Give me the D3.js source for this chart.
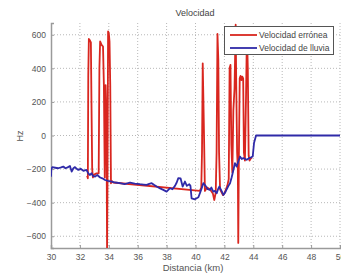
<!DOCTYPE html>
<html>
<head>
<meta charset="utf-8">
<script src="https://cdn.jsdelivr.net/npm/d3@7"></script>
<style>
  body { margin: 0; background: #fff; }
  svg { display: block; font-family: "Liberation Sans", Arial, sans-serif; }
</style>
</head>
<body>
<div id="chart"></div>
<script>
// distancia (km) / velocidad (Hz)
const lluviaX = [30.0, 30.02, 30.09, 30.3, 30.5, 30.7, 30.85, 31.0, 31.15, 31.31, 31.43, 31.55, 31.66, 31.8, 31.89, 32.05, 32.24, 32.45, 32.6, 32.7, 32.8, 32.9, 33.05, 33.2, 33.4, 33.55, 33.74, 33.95, 34.2, 34.45, 34.77, 35.1, 35.47, 35.8, 36.16, 36.4, 36.62, 36.8, 36.97, 37.15, 37.31, 37.55, 37.77, 38.0, 38.24, 38.4, 38.58, 38.7, 38.81, 38.97, 39.11, 39.27, 39.4, 39.57, 39.65, 39.73, 39.96, 40.08, 40.2, 40.32, 40.43, 40.54, 40.7, 40.85, 41.0, 41.1, 41.23, 41.35, 41.47, 41.56, 41.65, 41.8, 41.93, 42.05, 42.16, 42.28, 42.39, 42.5, 42.57, 42.73, 42.85, 42.96, 43.08, 43.2, 43.31, 43.45, 43.54, 43.7, 43.85, 43.96, 44.05, 44.19, 46, 48, 50]
const lluviaY = [-245, -200, -189, -192, -195, -190, -185, -195, -190, -182, -215, -195, -188, -200, -205, -198, -210, -205, -228, -235, -225, -240, -245, -235, -250, -255, -265, -270, -275, -280, -284, -290, -280, -286, -290, -292, -294, -288, -284, -295, -304, -315, -324, -334, -314, -320, -300, -280, -254, -256, -304, -274, -300, -290, -300, -374, -380, -374, -368, -340, -314, -284, -300, -320, -324, -310, -334, -330, -344, -320, -304, -330, -354, -340, -320, -300, -284, -250, -225, -165, -185, -155, -125, -140, -135, -140, -145, -135, -130, -125, -45, 0, 0, 0, 0]

const erroneaX = [32.5, 32.55, 32.58, 32.62, 32.7, 32.76, 32.8, 32.85, 32.9, 32.95, 33.05, 33.15, 33.3, 33.35, 33.4, 33.5, 33.6, 33.66, 33.72, 33.78, 33.84, 33.88, 33.91, 33.95, 34.0, 34.05, 34.1, 34.15, 34.2, 34.3,
  40.3, 40.4, 40.45, 40.5, 40.55, 40.6, 40.65, 40.8, 41.0, 41.2, 41.3, 41.4, 41.46, 41.52, 41.58, 41.63, 41.7, 41.9, 42.0, 42.2, 42.3, 42.36, 42.42, 42.48, 42.55, 42.62, 42.7, 42.78, 42.82, 42.88, 42.93, 42.96, 43.0, 43.06, 43.12, 43.18, 43.24, 43.3, 43.35, 43.42, 43.5, 43.56, 43.62, 43.68, 43.74, 43.8, 43.9]
const erroneaY = [-240, -255, 360, 575, 565, 555, 200, -200, -250, -235, -230, -225, -225, 400, 560, 540, 530, 300, -250, 300, 100, -680, -300, 620, 610, 560, 300, -285, -270, -280,
  -330, -310, -100, 430, 200, -50, -330, -310, -320, -345, -384, -340, -100, 605, 450, -100, -320, -355, -345, -300, -260, 400, 420, -50, -220, 150, 280, 660, 300, -100, -200, -640, -150, 340, 355, 330, 350, 340, -100, -150, 250, 620, 400, -120, -150, -140, -130]

const xTicks = [30, 32, 34, 36, 38, 40, 42, 44, 46, 48, 50]
const yTicks = [-600, -400, -200, 0, 200, 400, 600]
const series = ["Velocidad errónea", "Velocidad de lluvia"]
const colors = ["#d9261f", "#2f2aa8"]

const width = 341, height = 275
const mLeft = 51, mRight = 340, mTop = 23, mBottom = 248

const svg = d3.select("#chart").append("svg")
  .attr("width", width)
  .attr("height", height)

svg.append("rect").attr("width", width).attr("height", height).attr("fill", "#fff")

const x = d3.scaleLinear().domain([30, 50]).range([mLeft, mRight])
const y = d3.scaleLinear().domain([-670, 670]).range([mBottom, mTop])

svg.append("clipPath").attr("id", "plot")
  .append("rect")
  .attr("x", mLeft).attr("y", mTop)
  .attr("width", mRight - mLeft).attr("height", mBottom - mTop)

// grid
svg.append("g")
  .selectAll("line")
  .data(xTicks.slice(1))
  .join("line")
  .attr("x1", d => x(d)).attr("x2", d => x(d))
  .attr("y1", mTop).attr("y2", mBottom)
  .attr("stroke", "#b8b8b8")
  .attr("stroke-dasharray", "1,2")

svg.append("g")
  .selectAll("line")
  .data(yTicks)
  .join("line")
  .attr("x1", mLeft).attr("x2", mRight)
  .attr("y1", d => y(d)).attr("y2", d => y(d))
  .attr("stroke", "#b8b8b8")
  .attr("stroke-dasharray", "1,2")

// axes
const xAxis = svg.append("g")
  .attr("transform", `translate(0,${mBottom})`)
  .call(d3.axisBottom(x).tickValues(xTicks).tickSize(-3).tickPadding(6))
const yAxis = svg.append("g")
  .attr("transform", `translate(${mLeft},0)`)
  .call(d3.axisLeft(y).tickValues(yTicks).tickSize(-3).tickPadding(5))

;[xAxis, yAxis].forEach(a => {
  a.select(".domain").attr("stroke", "#9a9a9a").attr("stroke-width", 1.5)
  a.selectAll(".tick line").attr("stroke", "#9a9a9a")
  a.selectAll("text")
    .attr("fill", "#555")
    .style("font-size", "8.5px")
    .style("font-family", "Liberation Sans, Arial, sans-serif")
})

const line = d3.line().x(d => x(d[0])).y(d => y(d[1]))

const plot = svg.append("g").attr("clip-path", "url(#plot)")

plot.append("path")
  .datum(d3.zip(erroneaX, erroneaY))
  .attr("d", line)
  .attr("fill", "none")
  .attr("stroke", colors[0])
  .attr("stroke-width", 1.8)
  .attr("stroke-linejoin", "round")

plot.append("path")
  .datum(d3.zip(lluviaX, lluviaY))
  .attr("d", line)
  .attr("fill", "none")
  .attr("stroke", colors[1])
  .attr("stroke-width", 1.8)
  .attr("stroke-linejoin", "round")

// labels
svg.append("text")
  .text("Velocidad")
  .attr("x", 195).attr("y", 16)
  .attr("text-anchor", "middle")
  .attr("fill", "#444")
  .style("font-size", "9px")

svg.append("text")
  .text("Distancia (km)")
  .attr("x", 193).attr("y", 271)
  .attr("text-anchor", "middle")
  .attr("fill", "#555")
  .style("font-size", "9.5px")

svg.append("text")
  .text("Hz")
  .attr("transform", "translate(23,136) rotate(-90)")
  .attr("text-anchor", "middle")
  .attr("fill", "#555")
  .style("font-size", "9px")

// legend
const legend = svg.append("g")
legend.append("rect")
  .attr("x", 224.5).attr("y", 26.5)
  .attr("width", 109).attr("height", 28)
  .attr("fill", "#fff")
  .attr("stroke", "#555")
  .attr("stroke-width", 1)

const item = legend.selectAll("g.item")
  .data(series)
  .join("g")
  .attr("class", "item")
  .attr("transform", (d, i) => `translate(0,${35 + i * 13})`)

item.append("line")
  .attr("x1", 230).attr("x2", 257)
  .attr("stroke", (d, i) => colors[i])
  .attr("stroke-width", 1.8)

item.append("text")
  .text(d => d)
  .attr("x", 259).attr("y", 3)
  .attr("fill", "#444")
  .style("font-size", "8.5px")
</script>
</body>
</html>
